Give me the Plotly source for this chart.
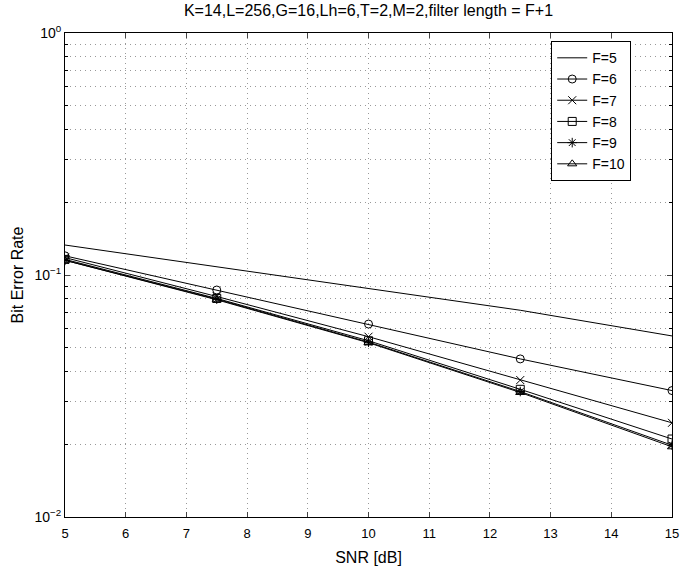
import plotly.graph_objects as go

snr = [5, 7.5, 10, 12.5, 15]
names = ["F=5", "F=6", "F=7", "F=8", "F=9", "F=10"]
ber_f5 = [0.133, 0.108, 0.088, 0.0715, 0.056]
ber_f6 = [0.120, 0.0867, 0.0627, 0.0450, 0.0333]
ber_f7 = [0.118, 0.0815, 0.0556, 0.0368, 0.0245]
ber_f8 = [0.116, 0.0800, 0.0535, 0.0337, 0.0210]
ber_f9 = [0.115, 0.0795, 0.0528, 0.0330, 0.0198]
ber_f10 = [0.115, 0.0790, 0.0525, 0.0327, 0.0195]
series = [ber_f5, ber_f6, ber_f7, ber_f8, ber_f9, ber_f10]
symbols = [None, "circle-open", "x-thin-open", "square-open", "asterisk-open", "triangle-up-open"]

xticks = list(range(5, 16))
ymajor = [0.01, 0.1, 1]
ymajor_text = ["10<sup>−2</sup>", "10<sup>−1</sup>", "10<sup>0</sup>"]
yminor = [m * 10 ** e for e in (-2, -1) for m in range(2, 10)]

fig = go.Figure()
for name, ys, sym in zip(names, series, symbols):
    if sym is None:
        fig.add_trace(go.Scatter(x=snr, y=ys, name=name, mode="lines",
                                 line=dict(color="black", width=1)))
    else:
        fig.add_trace(go.Scatter(x=snr, y=ys, name=name, mode="lines+markers",
                                 line=dict(color="black", width=1),
                                 marker=dict(symbol=sym, size=8, color="black",
                                             line=dict(color="black", width=1))))

grid = dict(showgrid=True, gridcolor="#999999", griddash="1px,4px", gridwidth=1)

fig.update_layout(
    width=686, height=574,
    margin=dict(l=65, r=7, t=33, b=57),
    paper_bgcolor="white", plot_bgcolor="white",
    font=dict(family="Liberation Sans, Arial, sans-serif", size=12, color="black"),
    title=dict(text="K=14,L=256,G=16,Lh=6,T=2,M=2,filter length = F+1",
               x=0.5, xanchor="center", xref="paper", y=0.992, yanchor="top",
               font=dict(size=16)),
    xaxis=dict(range=[5, 15], tickvals=xticks, ticks="inside", ticklen=5,
               showline=True, linecolor="black", linewidth=1, mirror="ticks",
               zeroline=False, tickfont=dict(size=13), ticklabeloverflow="allow",
               ticklabelstandoff=4,
               title=dict(text="SNR [dB]", standoff=12, font=dict(size=16)),
               **grid),
    yaxis=dict(type="log", range=[-2, 0], tickvals=ymajor, ticktext=ymajor_text,
               ticks="inside", ticklen=5,
               showline=True, linecolor="black", linewidth=1, mirror="ticks",
               zeroline=False, tickfont=dict(size=14), ticklabeloverflow="allow",
               minor=dict(tickvals=yminor, ticks="inside", ticklen=3,
                          tickcolor="black", **grid),
               title=dict(text="Bit Error Rate", standoff=6, font=dict(size=16)),
               **grid),
    legend=dict(x=0.801, y=0.983, xanchor="left", yanchor="top",
                bgcolor="white", bordercolor="black", borderwidth=1,
                font=dict(size=14), tracegroupgap=0, itemwidth=30),
    showlegend=True,
)

fig.write_html("out.html")
